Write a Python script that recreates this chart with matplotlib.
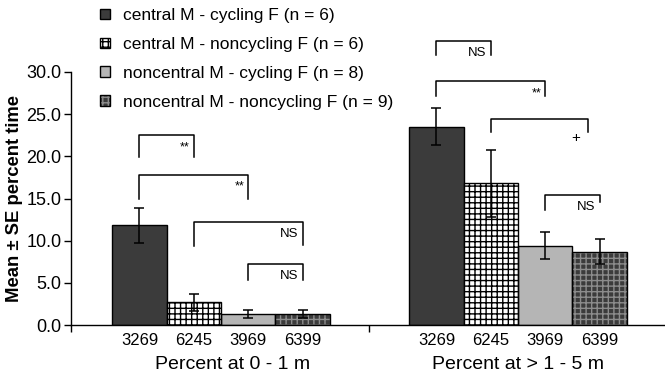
import matplotlib
matplotlib.use("Agg")
import matplotlib.pyplot as plt
from matplotlib.patches import Patch
from matplotlib.legend_handler import HandlerTuple
import numpy as np

plt.rcParams['font.family'] = ['Liberation Sans', 'DejaVu Sans']
plt.rcParams['hatch.linewidth'] = 1.0

# ---- data ----
groups = ["Percent at 0 - 1 m", "Percent at > 1 - 5 m"]
bar_labels = ["3269", "6245", "3969", "6399"]
series_names = ["central M - cycling F (n = 6)",
                "central M - noncycling F (n = 6)",
                "noncentral M - cycling F (n = 8)",
                "noncentral M - noncycling F (n = 9)"]
means_near = [11.8, 2.7, 1.27, 1.3]
se_near = [2.1, 1.0, 0.45, 0.5]
means_far = [23.5, 16.8, 9.4, 8.7]
se_far = [2.2, 3.95, 1.6, 1.45]
y_ticks = [0, 5, 10, 15, 20, 25, 30]

# comparisons: (group index, bar i, bar j, label)
comparisons = [(0, 0, 1, "**"), (0, 0, 2, "**"), (0, 1, 3, "NS"), (0, 2, 3, "NS"),
               (1, 0, 1, "NS"), (1, 0, 2, "**"), (1, 1, 3, "+"), (1, 2, 3, "NS")]
# bracket geometry (top, left leg bottom, right leg bottom, right end shift)
bracket_y = [(22.5, 19.9, 19.9, 0), (17.8, 15.0, 15.0, 0), (12.25, 9.4, 9.5, 0), (7.2, 5.3, 5.3, 0),
             (33.7, 32.0, 32.0, 0), (28.9, 27.2, 27.2, 0), (24.4, 22.9, 22.9, -0.04),
             (15.4, 13.6, 14.6, 0)]

means = [means_near, means_far]
ses = [se_near, se_far]

fig = plt.figure(figsize=(6.65, 3.75), dpi=100)
ax = fig.add_axes([71/665, 50/375, 594/665, 253/375])

w = 0.183
offsets = (np.arange(4) - 1.5) * w
face = ['#3b3b3b', 'white', '#b5b5b5', '#3b3b3b']
hatch = [None, '+++', None, '+++']
hatch_col = [None, 'black', None, '#8c8c8c']

centers = np.arange(len(groups))
for k in range(4):
    xs = centers + offsets[k]
    vals = [means[g][k] for g in range(len(groups))]
    errs = [ses[g][k] for g in range(len(groups))]
    if hatch[k]:
        ax.bar(xs, vals, w, color=face[k], edgecolor=hatch_col[k], hatch=hatch[k],
               linewidth=0, zorder=2)
        ax.bar(xs, vals, w, facecolor='none', edgecolor='black', linewidth=1.0, zorder=3)
    else:
        ax.bar(xs, vals, w, color=face[k], edgecolor='black', linewidth=1.0, zorder=2)
    ax.errorbar(xs, vals, yerr=errs, fmt='none', ecolor='black', elinewidth=1.1,
                capsize=3.5, capthick=1.1, zorder=4)

# significance brackets
for (g, i, j, lab), (top, lb, rb, sh) in zip(comparisons, bracket_y):
    x1 = centers[g] + offsets[i]
    x2 = centers[g] + offsets[j] + sh
    ax.plot([x1, x1, x2, x2], [lb, top, top, rb], color='black', lw=1.1,
            clip_on=False, zorder=5)
    dy = -19 if lab == "+" else -12
    dx = -8 if lab == "+" else -4
    fs = {"**": 9, "NS": 9.5, "+": 11}[lab]
    ax.annotate(lab, xy=(x2, top), xytext=(dx, dy), textcoords='offset pixels',
                ha='right', va='center', fontsize=fs, annotation_clip=False)

ax.set_xlim(-0.505, 1.495)
ax.set_ylim(0, 30)
ax.set_yticks(y_ticks)
ax.set_yticklabels([f"{v:.1f}" for v in y_ticks], fontsize=13)
ax.tick_params(axis='y', length=5, width=1.0, direction='out', pad=2)

bar_pos = np.concatenate([centers[g] + offsets for g in range(len(groups))])
ax.set_xticks(bar_pos)
ax.set_xticklabels(bar_labels * len(groups), fontsize=12)
ax.tick_params(axis='x', which='major', length=0, pad=6)
ax.set_xticks([-0.505, 0.5], minor=True)
ax.tick_params(axis='x', which='minor', length=5, width=1.0, direction='out')

for sp in ['top', 'right']:
    ax.spines[sp].set_visible(False)
for sp in ['left', 'bottom']:
    ax.spines[sp].set_linewidth(1.0)

label_dx = [0.04, 0.0]
for g, name in enumerate(groups):
    ax.text(centers[g] + label_dx[g], -0.155, name, transform=ax.get_xaxis_transform(),
            ha='center', va='center', fontsize=14)

fig.text(15/665, 1 - 198/375, "Mean \u00b1 SE percent time", rotation=90,
         ha='center', va='center', fontsize=13.3, fontweight='bold')

# legend
handles = []
for k in range(4):
    if hatch[k]:
        p1 = Patch(facecolor=face[k], edgecolor=hatch_col[k], hatch=hatch[k], linewidth=0)
        p2 = Patch(facecolor='none', edgecolor='black', linewidth=1.0)
        handles.append((p1, p2))
    else:
        handles.append(Patch(facecolor=face[k], edgecolor='black', linewidth=1.0))
fig.legend(handles, series_names, loc='upper left', bbox_to_anchor=(100/665, 1 - 8/375),
           frameon=False, fontsize=12.5, handlelength=0.55, handleheight=0.55,
           handletextpad=0.75, labelspacing=0.8, borderpad=0, borderaxespad=0,
           handler_map={tuple: HandlerTuple(ndivide=1, pad=0)})

fig.savefig("out.png", dpi=100)
